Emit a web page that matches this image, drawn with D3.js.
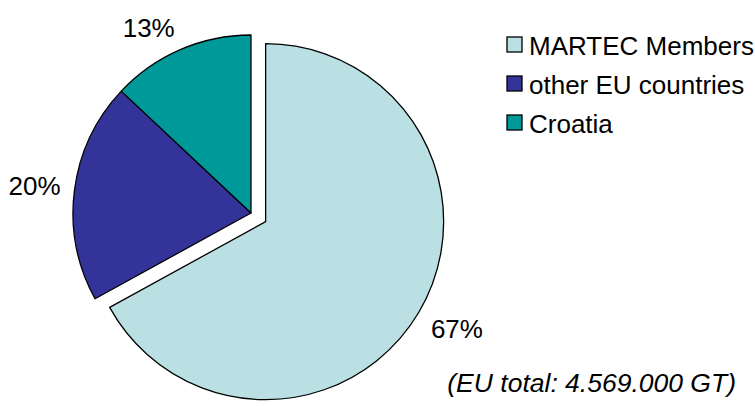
<!DOCTYPE html>
<html>
<head>
<meta charset="utf-8">
<script src="https://cdn.jsdelivr.net/npm/d3@7"></script>
<style>
    body { margin: 0; background: #fff; }
    text { font-family: "Liberation Sans", Arial, sans-serif; fill: #000; }
</style>
</head>
<body>
<script>
// chart data
const categories = ["MARTEC Members", "other EU countries", "Croatia"];
const shares = [67, 20, 13];
const colors = ["#BBE0E3", "#333399", "#009999"];
const exploded = [true, false, false];
const footnote = "(EU total: 4.569.000 GT)";

const width = 755;
const height = 406;
const fontSize = 26;

const svg = d3.select("body").append("svg")
    .attr("width", width)
    .attr("height", height);

const cx = 251, cy = 213;
const radius = 178;
const explodeBy = 17;
const labelDist = 192;

const pie = d3.pie().sort(null).value(d => d.value);
const arc = d3.arc().innerRadius(0).outerRadius(radius);

const data = categories.map((c, i) => ({ name: c, value: shares[i], color: colors[i], out: exploded[i] }));
const arcs = pie(data);

function midAngle(d) {
    return (d.startAngle + d.endAngle) / 2;
}

function offset(d) {
    //push the exploded slice out along its middle angle
    if (!d.data.out) return [0, 0];
    let a = midAngle(d);
    return [Math.sin(a) * explodeBy, -Math.cos(a) * explodeBy];
}

function clamp(v) {
    return Math.max(-1, Math.min(1, v));
}

const g = svg.append("g").attr("transform", "translate(" + cx + "," + cy + ")");

g.selectAll("path")
    .data(arcs)
    .enter().append("path")
    .attr("d", arc)
    .attr("transform", d => "translate(" + offset(d) + ")")
    .attr("fill", d => d.data.color)
    .attr("stroke", "#000")
    .attr("stroke-width", 1.3)
    .attr("stroke-linejoin", "round");

// percentage labels: the corner of the label nearest the pie sits just outside the rim
g.selectAll("text.pct")
    .data(arcs)
    .enter().append("text")
    .attr("class", "pct")
    .attr("text-anchor", "middle")
    .attr("dy", "0.36em")
    .style("font-size", fontSize + "px")
    .text(d => d.data.value + "%")
    .each(function(d) {
        let w = this.getBBox().width;
        let h = fontSize * 0.72;
        let a = midAngle(d);
        let o = offset(d);
        let px = o[0] + Math.sin(a) * labelDist;
        let py = o[1] - Math.cos(a) * labelDist;
        d3.select(this)
            .attr("x", px + clamp(Math.sin(a) * 3) * w / 2)
            .attr("y", py - clamp(Math.cos(a) * 3) * h / 2);
    });

// legend
const legend = svg.append("g").attr("transform", "translate(507,37)");
const row = legend.selectAll("g")
    .data(data)
    .enter().append("g")
    .attr("transform", (d, i) => "translate(0," + (i * 39) + ")");

row.append("rect")
    .attr("width", 15)
    .attr("height", 15)
    .attr("fill", d => d.color)
    .attr("stroke", "#000")
    .attr("stroke-width", 1.3);

row.append("text")
    .attr("x", 22)
    .attr("y", 8.5)
    .attr("dy", "0.36em")
    .style("font-size", fontSize + "px")
    .text(d => d.name);

svg.append("text")
    .attr("x", 736)
    .attr("y", 392)
    .attr("text-anchor", "end")
    .style("font-size", "26.5px")
    .style("font-style", "italic")
    .text(footnote);
</script>
</body>
</html>
